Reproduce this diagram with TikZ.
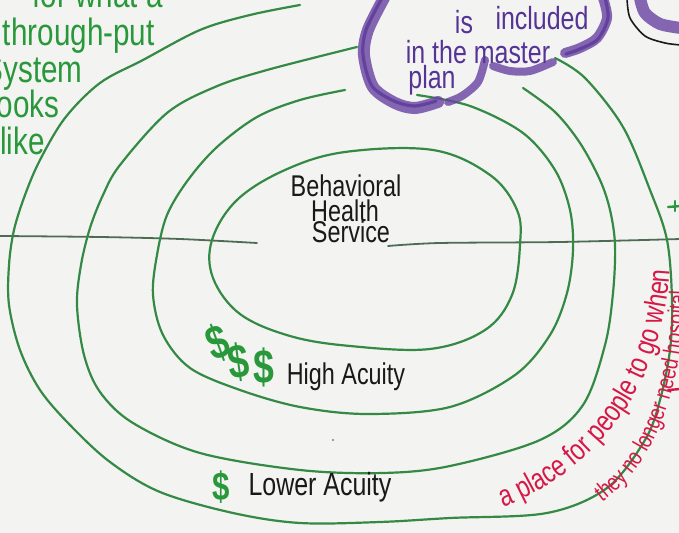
\documentclass[tikz,border=0pt]{standalone}
\usepackage{fontspec}
\usepackage{tikz}
\usetikzlibrary{decorations.text}
\newfontfamily\hand[FakeStretch=0.78]{Liberation Sans}
\definecolor{board}{RGB}{243,243,241}
\definecolor{ringgreen}{RGB}{52,138,68}
\definecolor{axisgreen}{RGB}{78,108,84}
\definecolor{inkgreen}{RGB}{40,152,58}
\definecolor{inkpurple}{RGB}{86,52,150}
\definecolor{cloudpurple}{RGB}{104,66,162}
\definecolor{inkred}{RGB}{214,24,70}
\definecolor{inkblack}{RGB}{25,25,25}
\tikzset{
	ring/.style={draw=ringgreen,line width=1.1pt,line cap=round,line join=round},
	axisline/.style={draw=axisgreen,line width=0.9pt,line cap=round},
	cloudedge/.style={draw=cloudpurple,line cap=round,opacity=0.8},
	cloudcore/.style={draw=inkpurple,line cap=round,line width=1.6pt,opacity=0.7},
	greentxt/.style={text=inkgreen,inner sep=0pt,anchor=base east,font=\hand\fontsize{19}{19}\selectfont},
	purpletxt/.style={text=inkpurple,inner sep=0pt,font=\hand\fontsize{16}{16}\selectfont},
	blacktxt/.style={text=inkblack,inner sep=0pt,anchor=base,font=\hand\fontsize{15}{15}\selectfont},
	dollar/.style={text=inkgreen,inner sep=0pt,font=\hand\bfseries\fontsize{24}{24}\selectfont}
}
\begin{document}
\begin{tikzpicture}[x=0.5pt,y=-0.5pt]
	\useasboundingbox (0,0) rectangle (679,533);
	\fill[board] (0,0) rectangle (679,533);
	\clip (0,0) rectangle (679,533);
	\draw[axisline] plot[smooth] coordinates {(0,236) (100,237) (180,239) (257,243)};
	\draw[axisline] plot[smooth] coordinates {(388,246) (440,243) (560,242) (681,239)};
	\draw[ring] plot[smooth cycle,tension=0.6] coordinates {(345,152) (433,150) (490,175) (517,210) (520,245) (512,295) (485,330) (430,349) (350,346) (290,336) (240,314) (213,278) (212,240) (237,200) (285,170)};
	\draw[ring] plot[smooth,tension=0.55] coordinates {(417,95) (470,106) (523,133) (555,170) (570,210) (573,250) (567,293) (550,335) (515,375) (450,407) (367,414) (300,407) (240,390) (190,368) (163,335) (153,295) (157,255) (167,215) (188,180) (217,147) (257,117) (300,100) (345,90)};
	\draw[ring] plot[smooth,tension=0.55] coordinates {(523,88) (555,112) (580,143) (600,180) (610,210) (615,245) (613,293) (605,345) (583,405) (540,440) (450,466) (383,473) (300,470) (200,453) (133,423) (100,392) (84,355) (77,305) (81,265) (90,228) (103,195) (120,165) (167,113) (215,87) (267,70) (357,47)};
	\draw[ring] plot[smooth,tension=0.55] coordinates {(555,58) (585,78) (623,127) (650,190) (667,240) (672,300) (670,350) (660,400) (645,440) (607,488) (547,513) (450,518) (380,522) (300,523) (233,513) (160,492) (110,462) (70,425) (40,390) (20,350) (9,305) (9,265) (14,230) (25,195) (40,160) (65,118) (100,83) (143,60) (200,30) (250,15) (300,5)};
	\draw[cloudedge,line width=6pt] plot[smooth] coordinates {(384,-2) (368,30) (364,55) (373,87) (395,103) (415,108) (438,102)};
	\draw[cloudcore] plot[smooth] coordinates {(382,-2) (366,30) (363,55) (372,86) (394,101) (415,106) (436,101)};
	\draw[cloudedge,line width=4pt] plot[smooth] coordinates {(485,60) (478,82) (462,96) (448,102)};
	\draw[cloudedge,line width=4pt] plot[smooth] coordinates {(493,66) (510,71) (530,71) (553,62)};
	\draw[cloudedge,line width=5pt] plot[smooth] coordinates {(603,-2) (607,18) (597,38) (580,48) (565,53)};
	\draw[cloudcore] plot[smooth] coordinates {(605,-2) (608,18) (598,39) (580,49) (566,54)};
	\draw[inkblack,line width=0.8pt] plot[smooth] coordinates {(627,-2) (630,18) (645,36) (665,43) (681,45)};
	\draw[cloudedge,line width=6pt] plot[smooth] coordinates {(640,-2) (645,13) (660,24) (681,28)};
	\node (is) at (464,22) [purpletxt] {{is}};
	\node (incl) at (542,18) [purpletxt] {{included}};
	\node (inthe) at (478,52) [purpletxt] {{in the master}};
	\node (plan) at (432,80) [purpletxt] {{plan}};
	\node (for) at (163,8) [greentxt] {{for what a}};
	\node (thru) at (155,46) [greentxt] {{through-put}};
	\node (sys) at (83,83) [greentxt] {{System}};
	\node (looks) at (60,118) [greentxt] {{looks}};
	\node (like) at (45,155) [greentxt] {{like}};
	\node (behav) at (346,197) [blacktxt] {{Behavioral}};
	\node (health) at (345,222) [blacktxt] {{Health}};
	\node (service) at (351,243) [blacktxt] {{Service}};
	\node (d1) at (218,343) [dollar,rotate=20] {{\$}};
	\node (d2) at (239,362) [dollar,rotate=8] {{\$}};
	\node (d3) at (264,367) [dollar] {{\$}};
	\node (high) at (346,385) [blacktxt] {{High Acuity}};
	\node (d4) at (221,487) [dollar,font=\hand\bfseries\fontsize{20}{20}\selectfont] {{\$}};
	\node (lower) at (320,495) [blacktxt,font=\hand\fontsize{16}{16}\selectfont] {{Lower Acuity}};
	\path[decorate,decoration={text along path,text={|\hand\fontsize{15}{15}\selectfont\color{inkred}|a place for people to go when}}] (503,507) .. controls (600,470) and (666,382) .. (670,262);
	\path[decorate,decoration={text along path,text={|\hand\fontsize{12}{12}\selectfont\color{inkred}|they no longer need hospital}}] (602,502) .. controls (650,468) and (684,400) .. (687,272);
	\draw[inkgreen,line width=1.2pt,line cap=round] (668,207) -- (681,206);
	\draw[inkgreen,line width=1.2pt,line cap=round] (675,201) -- (675,211);
	\draw[inkred,line width=1.2pt,line cap=round] (668,390) -- (681,389);
	\fill[gray] (333,440) circle (1.2);
\end{tikzpicture}
\end{document}
